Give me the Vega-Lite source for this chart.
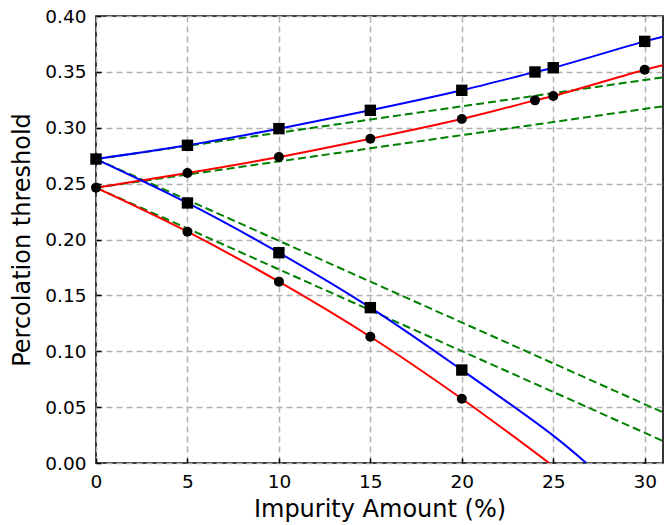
{
  "$schema": "https://vega.github.io/schema/vega-lite/v6.json",
  "autosize": "none",
  "padding": {"left": 96, "top": 16, "right": 7, "bottom": 62},
  "width": 567,
  "height": 447,
  "background": "white",
  "config": {
    "view": {"stroke": "black", "strokeWidth": 1.6},
    "font": "DejaVu Sans",
    "axis": {
      "grid": true,
      "gridColor": "#b0b0b0",
      "gridDash": [6, 4],
      "gridWidth": 1.5,
      "domain": false,
      "tickColor": "black",
      "tickSize": -5,
      "tickWidth": 1.5,
      "labelFlush": false,
      "labelFont": "DejaVu Sans",
      "labelFontSize": 18.5,
      "labelColor": "black",
      "titleFont": "DejaVu Sans",
      "titleFontSize": 24,
      "titleFontWeight": "normal",
      "titleColor": "black"
    }
  },
  "datasets": {
    "curves": [
      {"series": "blue upper", "x": 0, "y": 0.272},
      {"series": "blue upper", "x": 5, "y": 0.2843},
      {"series": "blue upper", "x": 10, "y": 0.2992},
      {"series": "blue upper", "x": 15, "y": 0.3156},
      {"series": "blue upper", "x": 20, "y": 0.3335},
      {"series": "blue upper", "x": 24, "y": 0.3499},
      {"series": "blue upper", "x": 25, "y": 0.3537},
      {"series": "blue upper", "x": 30, "y": 0.3773},
      {"series": "blue upper", "x": 31, "y": 0.3815},
      {"series": "red upper", "x": 0, "y": 0.2464},
      {"series": "red upper", "x": 5, "y": 0.2595},
      {"series": "red upper", "x": 10, "y": 0.2738},
      {"series": "red upper", "x": 15, "y": 0.2902},
      {"series": "red upper", "x": 20, "y": 0.3078},
      {"series": "red upper", "x": 24, "y": 0.3245},
      {"series": "red upper", "x": 25, "y": 0.3284},
      {"series": "red upper", "x": 30, "y": 0.3519},
      {"series": "red upper", "x": 31, "y": 0.356},
      {"series": "blue lower", "x": 0, "y": 0.272},
      {"series": "blue lower", "x": 5, "y": 0.2327},
      {"series": "blue lower", "x": 10, "y": 0.1882},
      {"series": "blue lower", "x": 15, "y": 0.139},
      {"series": "blue lower", "x": 20, "y": 0.0832},
      {"series": "blue lower", "x": 25, "y": 0.0245},
      {"series": "blue lower", "x": 26.8, "y": 0},
      {"series": "red lower", "x": 0, "y": 0.2464},
      {"series": "red lower", "x": 5, "y": 0.207},
      {"series": "red lower", "x": 10, "y": 0.1623},
      {"series": "red lower", "x": 15, "y": 0.113},
      {"series": "red lower", "x": 20, "y": 0.0575},
      {"series": "red lower", "x": 24.77, "y": 0}
    ],
    "tangents": [
      {"series": "t1", "x": 0, "y": 0.272},
      {"series": "t1", "x": 31, "y": 0.3451},
      {"series": "t2", "x": 0, "y": 0.2464},
      {"series": "t2", "x": 31, "y": 0.3192},
      {"series": "t3", "x": 0, "y": 0.272},
      {"series": "t3", "x": 31, "y": 0.0453},
      {"series": "t4", "x": 0, "y": 0.2464},
      {"series": "t4", "x": 31, "y": 0.0197}
    ],
    "squares": [
      {"x": 0, "y": 0.272},
      {"x": 5, "y": 0.2843},
      {"x": 10, "y": 0.2992},
      {"x": 15, "y": 0.3156},
      {"x": 20, "y": 0.3335},
      {"x": 24, "y": 0.3499},
      {"x": 25, "y": 0.3537},
      {"x": 30, "y": 0.3773},
      {"x": 5, "y": 0.2327},
      {"x": 10, "y": 0.1882},
      {"x": 15, "y": 0.139},
      {"x": 20, "y": 0.0832}
    ],
    "circles": [
      {"x": 0, "y": 0.2464},
      {"x": 5, "y": 0.2595},
      {"x": 10, "y": 0.2738},
      {"x": 15, "y": 0.2902},
      {"x": 20, "y": 0.3078},
      {"x": 24, "y": 0.3245},
      {"x": 25, "y": 0.3284},
      {"x": 30, "y": 0.3519},
      {"x": 5, "y": 0.207},
      {"x": 10, "y": 0.1623},
      {"x": 15, "y": 0.113},
      {"x": 20, "y": 0.0575}
    ]
  },
  "encoding": {
    "x": {
      "field": "x",
      "type": "quantitative",
      "scale": {"domain": [0, 31], "nice": false, "zero": false},
      "axis": {"values": [0, 5, 10, 15, 20, 25, 30], "title": "Impurity Amount (%)", "labelPadding": 14, "titlePadding": 7}
    },
    "y": {
      "field": "y",
      "type": "quantitative",
      "scale": {"domain": [0, 0.4], "nice": false},
      "axis": {"values": [0, 0.05, 0.1, 0.15, 0.2, 0.25, 0.3, 0.35, 0.4], "format": ".2f", "title": "Percolation threshold", "labelPadding": 15, "titlePadding": 10}
    }
  },
  "layer": [
    {
      "data": {"name": "tangents"},
      "mark": {"type": "line", "color": "#008000", "strokeWidth": 2, "strokeDash": [8, 4], "clip": true},
      "encoding": {"detail": {"field": "series"}}
    },
    {
      "data": {"name": "curves"},
      "mark": {"type": "line", "strokeWidth": 2, "interpolate": "catmull-rom", "clip": true},
      "encoding": {
        "detail": {"field": "series"},
        "color": {
          "field": "series",
          "type": "nominal",
          "scale": {"domain": ["blue upper", "blue lower", "red upper", "red lower"], "range": ["#0000ff", "#0000ff", "#ff0000", "#ff0000"]},
          "legend": null
        }
      }
    },
    {
      "data": {"name": "squares"},
      "mark": {"type": "point", "shape": "square", "filled": true, "color": "black", "opacity": 1, "size": 130}
    },
    {
      "data": {"name": "circles"},
      "mark": {"type": "point", "shape": "circle", "filled": true, "color": "black", "opacity": 1, "size": 100}
    }
  ]
}
